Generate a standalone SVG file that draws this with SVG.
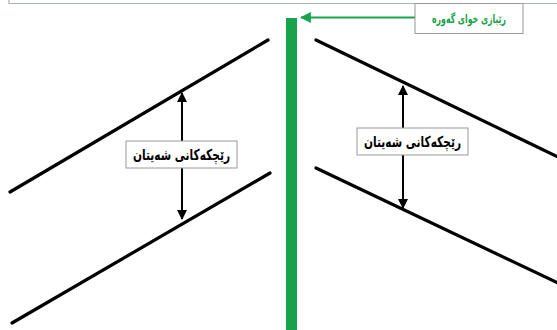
<svg xmlns="http://www.w3.org/2000/svg" width="557" height="330" viewBox="0 0 557 330">
<style>
.ln{stroke:#000;stroke-width:3.2;stroke-linecap:round;fill:none}
.ar{stroke:#000;stroke-width:2;fill:none}
.box{fill:#fff;stroke:#9a9a9a;stroke-width:1}
.t{font-family:"DejaVu Sans","Noto Sans",sans-serif;font-weight:bold;text-anchor:middle}
.big{font-size:15px}
.small{font-size:12px}
</style>
<defs>
<marker id="ah" viewBox="0 0 10 10" refX="9" refY="5" markerWidth="5.5" markerHeight="5" orient="auto" markerUnits="strokeWidth">
<path d="M0,0 L10,5 L0,10 Z" fill="#000"/>
</marker>
<marker id="gh" viewBox="0 0 10 10" refX="9" refY="5" markerWidth="5" markerHeight="5" orient="auto" markerUnits="strokeWidth">
<path d="M0,0 L10,5 L0,10 Z" fill="#16a34a"/>
</marker>
</defs>
<path d="M9,0 V3.5 H557" fill="none" stroke="#a9b4b4" stroke-width="1.2"/>
<g id="lines">
<line class="ln" x1="10" y1="192" x2="268" y2="40"/>
<line class="ln" x1="12" y1="323" x2="270" y2="173"/>
<line class="ln" x1="316" y1="40" x2="560" y2="158"/>
<line class="ln" x1="316" y1="168" x2="560" y2="284"/>
</g>
<rect id="divider" x="286" y="18" width="11" height="312" fill="#16a34a"/>
<g id="connectors">
<line class="ar" x1="182" y1="150" x2="182" y2="93" marker-end="url(#ah)"/>
<line class="ar" x1="182" y1="160" x2="182" y2="219" marker-end="url(#ah)"/>
<line class="ar" x1="403" y1="140" x2="403" y2="86" marker-end="url(#ah)"/>
<line class="ar" x1="403" y1="145" x2="403" y2="208" marker-end="url(#ah)"/>
<line x1="415" y1="17.5" x2="301" y2="17.5" stroke="#16a34a" stroke-width="2.2" marker-end="url(#gh)"/>
</g>
<g id="label-god">
<rect class="box" x="415" y="3.5" width="108" height="30" stroke="#a9b4b4"/>
<text class="t small" x="469" y="22.5" fill="#16a34a" textLength="74" lengthAdjust="spacingAndGlyphs">رێبازی خوای گەورە</text>
</g>
<g id="label-left">
<rect class="box" x="126" y="141" width="111" height="27"/>
<text class="t big" x="181.5" y="160" fill="#000" textLength="97" lengthAdjust="spacingAndGlyphs">رێچکەکانی شەیتان</text>
</g>
<g id="label-right">
<rect class="box" x="357" y="128" width="111" height="27"/>
<text class="t big" x="412.5" y="147" fill="#000" textLength="97" lengthAdjust="spacingAndGlyphs">رێچکەکانی شەیتان</text>
</g>
</svg>
